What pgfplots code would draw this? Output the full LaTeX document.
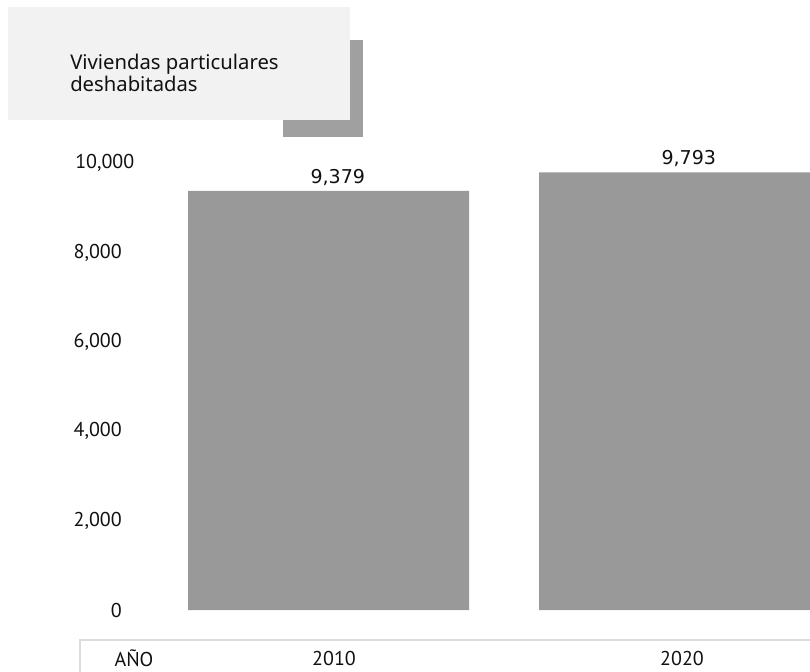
\documentclass[border=0pt]{standalone}
\usepackage{pgfplots}
\pgfplotsset{compat=1.18}
\usepackage{fontspec}
\setmainfont{PT Sans}
\newfontfamily\dejavu{DejaVu Sans}
\newfontfamily\noto{Noto Sans}
\definecolor{bargray}{HTML}{999999}
\definecolor{shadowgray}{HTML}{A0A0A0}
\definecolor{legbg}{HTML}{F2F2F2}
\definecolor{boxline}{HTML}{DCDCDC}
\definecolor{txt}{HTML}{111111}
\begin{document}
\begin{tikzpicture}
\clip (0,0) rectangle (607.5pt,-503.25pt);
\begin{scope}[x=0.75pt,y=-0.75pt]
\fill[shadowgray] (283,40) rectangle (363,137);
\fill[legbg] (8,7) rectangle (350,120);
\node[anchor=base west,inner sep=0,text=txt,font=\noto\fontsize{15.2}{18}\selectfont] at (70,69) {Viviendas particulares};
\node[anchor=base west,inner sep=0,text=txt,font=\noto\fontsize{15.2}{18}\selectfont] at (70,91) {deshabitadas};
\draw[boxline, line width=1.1pt] (80,640) rectangle (840,700);
\end{scope}
\begin{axis}[
  at={(0pt,-457.5pt)}, anchor=south west,
  x=0.75pt, y=0.0335055pt,
  xmin=0, xmax=810, ymin=0, ymax=10500,
  enlargelimits=false,
  axis line style={draw=none},
  tick style={draw=none}, major tick length=0pt,
  scaled y ticks=false,
  /pgf/number format/1000 sep={,},
  /pgf/number format/assume math mode=true,
  ytick={0,2000,4000,6000,8000},
  extra y ticks={10000},
  extra y tick style={yticklabel style={anchor=west, xshift=-35.25pt}},
  yticklabel style={font=\fontsize{15}{18}\selectfont, text=txt, anchor=east, inner sep=0pt, xshift=91.5pt},
  xtick={334,682},
  xticklabels={2010,2020},
  extra x ticks={134},
  extra x tick labels={AÑO},
  xticklabel style={font=\fontsize{15}{18}\selectfont, text=txt, anchor=center, inner sep=0pt, yshift=-36pt},
  ybar, bar width=210.75pt,
  nodes near coords,
  nodes near coords style={font=\dejavu\fontsize{14.3}{17}\selectfont, text=txt, anchor=south, inner sep=0pt, xshift=7pt, yshift=4pt},
]
\addplot[fill=bargray, draw=none] coordinates {(328.5,9379) (679.5,9793)};
\end{axis}
\end{tikzpicture}
\end{document}
